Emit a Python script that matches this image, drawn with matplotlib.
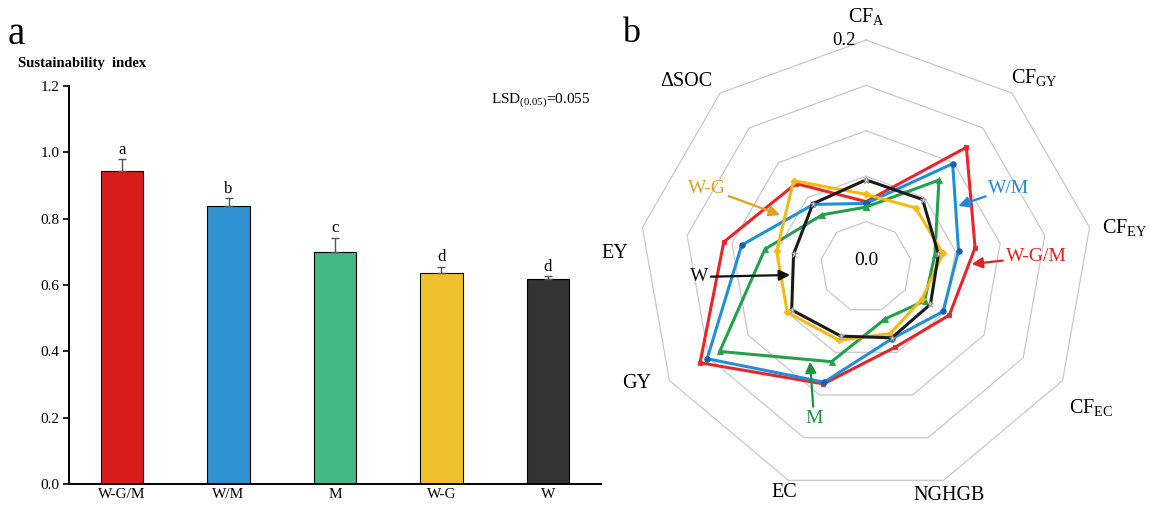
import numpy as np
import matplotlib
matplotlib.use("Agg")
import matplotlib.pyplot as plt

plt.rcParams['font.family'] = ['Liberation Serif', 'DejaVu Serif']
plt.rcParams['mathtext.fontset'] = 'custom'
plt.rcParams['mathtext.rm'] = 'Liberation Serif'
plt.rcParams['mathtext.it'] = 'Liberation Serif:italic'
plt.rcParams['mathtext.bf'] = 'Liberation Serif:bold'

# ---------------- data: panel a ----------------
treatments = ['W-G/M', 'W/M', 'M', 'W-G', 'W']
sustainability = [0.943, 0.838, 0.700, 0.635, 0.618]
sust_err = [0.036, 0.024, 0.043, 0.020, 0.008]
sig_letters = ['a', 'b', 'c', 'd', 'd']
bar_colors = ['#D81B1B', '#2E91D0', '#42B883', '#F0C12E', '#333333']
y_ticks = [0.0, 0.2, 0.4, 0.6, 0.8, 1.0, 1.2]

# ---------------- data: panel b ----------------
indicators = [r'CF$_\mathrm{A}$', r'CF$_\mathrm{GY}$', r'CF$_\mathrm{EY}$', r'CF$_\mathrm{EC}$',
              'NGHGB', 'EC', 'GY', 'EY', 'ΔSOC']
radar_WGM = [0.022, 0.122, 0.072, 0.056, 0.044, 0.087, 0.161, 0.109, 0.070]
radar_WM = [0.020, 0.0985, 0.0535, 0.048, 0.034, 0.085, 0.152, 0.089, 0.040]
radar_M = [0.016, 0.075, 0.027, 0.0245, 0.011, 0.061, 0.136, 0.063, 0.025]
radar_WG = [0.030, 0.035, 0.036, 0.021, 0.028, 0.036, 0.050, 0.050, 0.074]
radar_W = [0.046, 0.047, 0.031, 0.032, 0.033, 0.031, 0.0445, 0.031, 0.041]
ring_levels = [0.0, 0.05, 0.10, 0.15, 0.20]

W, H = 1149, 507
fig = plt.figure(figsize=(W / 100, H / 100), dpi=100)
fig.patch.set_facecolor('white')

def fx(px):
    return px / W

def fy(py):
    return 1 - py / H

# ================= panel a =================
ax1 = fig.add_axes([fx(69), fy(484), fx(601) - fx(69), fy(86) - fy(484)])
x = np.arange(len(treatments))
ax1.bar(x, sustainability, width=0.40, color=bar_colors, edgecolor='black', linewidth=0.8, zorder=2)
ax1.errorbar(x, sustainability, yerr=[np.zeros(len(x)), sust_err], fmt='none',
             ecolor='#555555', elinewidth=1.0, capsize=3, capthick=1.0, zorder=3)
for xi, v, e, s in zip(x, sustainability, sust_err, sig_letters):
    ax1.annotate(s, (xi, v + e), xytext=(0, 1), textcoords='offset points',
                 ha='center', va='bottom', fontsize=12)
ax1.set_xlim(-0.5, 4.5)
ax1.set_ylim(0, 1.2)
ax1.set_yticks(y_ticks)
ax1.set_yticklabels([f'{t:.1f}' for t in y_ticks])
ax1.set_xticks(x)
ax1.set_xticklabels(treatments)
ax1.tick_params(axis='x', length=0, labelsize=11, pad=3)
ax1.tick_params(axis='y', direction='out', length=4, width=1.2, labelsize=11, pad=3)
for sp in ['top', 'right']:
    ax1.spines[sp].set_visible(False)
for sp in ['left', 'bottom']:
    ax1.spines[sp].set_linewidth(1.4)
ax1.set_facecolor('white')

fig.text(fx(8), fy(44), 'a', fontsize=28, ha='left', va='baseline')
fig.text(fx(18), fy(64), 'Sustainability  index', fontsize=10.5, fontweight='bold',
         ha='left', va='center')
fig.text(fx(590), fy(100), r'LSD$_{(0.05)}$=0.055', fontsize=11, ha='right', va='center')

# ================= panel b =================
cx, cy, R = 866, 267, 227
ax2 = fig.add_axes([fx(cx - R), fy(cy + R), fx(2 * R), (2 * R) / H], projection='polar')
ax2.set_ylim(-0.05, 0.2)
ax2.set_axis_off()

n = len(indicators)
theta = np.deg2rad(90 - 40 * np.arange(n))
theta_c = np.append(theta, theta[0])

for lev in ring_levels:
    ax2.plot(theta_c, [lev] * (n + 1), color='#c9c9c9', lw=0.9, zorder=1, clip_on=False)

series = [
    (radar_WGM, '#E8262A', 's', 3.5, '#E8262A', '#E8262A'),
    (radar_WM, '#1F8FDA', 'o', 4.0, '#1560B0', '#1560B0'),
    (radar_M, '#22A04B', '^', 4.0, '#22A04B', '#22A04B'),
    (radar_WG, '#F5B915', 'D', 3.5, '#F5B915', '#F5B915'),
    (radar_W, '#1A1A1A', '*', 5.0, '#dddddd', '#999999'),
]
for vals, col, mk, ms, mfc, mec in series:
    v = np.append(vals, vals[0])
    ax2.plot(theta_c, v, color=col, lw=2.2, marker=mk, markersize=ms,
             markerfacecolor=mfc, markeredgecolor=mec, markeredgewidth=0.6,
             zorder=3, clip_on=False)

# indicator labels
label_pos = [(90, 0.226), (48.3, 0.2297), (8.6, 0.2385), (-32, 0.2418), (-70, 0.2176),
             (-110, 0.2143), (-153, 0.233), (177, 0.2275), (134, 0.234)]
for lab, (ang, rr) in zip(indicators, label_pos):
    ax2.text(np.deg2rad(ang), rr, lab, fontsize=14.5, ha='center', va='center')

ax2.text(np.deg2rad(95.5), 0.2005, '0.2', fontsize=13.5, ha='center', va='center')
ax2.text(np.deg2rad(90), -0.0425, '0.0', fontsize=14, ha='center', va='center')

# series annotations with arrows
annots = [
    ('W-G', '#E0A020', (153.6, 0.1455), (148.8, 0.0607)),
    ('W/M', '#2288DD', (28.9, 0.130), (33.5, 0.0718)),
    ('W-G/M', '#E02020', (3.4, 0.1376), (1.6, 0.0664)),
    ('W', '#111111', (-176.6, 0.1343), (-174, 0.0341)),
    ('M', '#1E9040', (-109, 0.1259), (-120.6, 0.0711)),
]
for txt, col, (ta, tr), (pa, pr) in annots:
    ax2.annotate(txt, xy=(np.deg2rad(pa), pr), xytext=(np.deg2rad(ta), tr),
                 color=col, fontsize=14, ha='center', va='center',
                 arrowprops=dict(arrowstyle='-|>', color=col, lw=1.6,
                                 mutation_scale=16, shrinkA=0, shrinkB=0),
                 zorder=5)

fig.text(fx(622), fy(42), 'b', fontsize=26, ha='left', va='baseline')

fig.savefig('out.png', dpi=100, facecolor='white')
